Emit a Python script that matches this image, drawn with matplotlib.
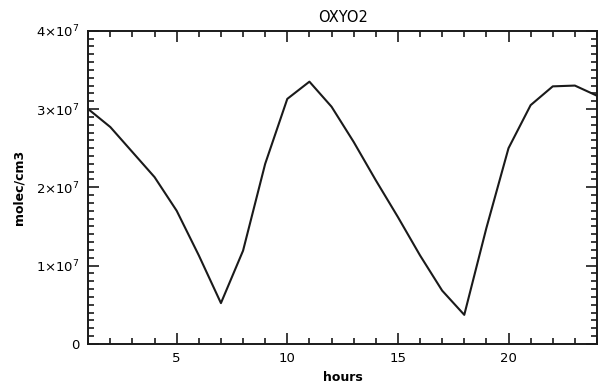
import matplotlib
matplotlib.use("Agg")
import matplotlib.pyplot as plt
from matplotlib.ticker import MultipleLocator

hours = list(range(1, 25))
oxyo2 = [3.00e7, 2.77e7, 2.45e7, 2.13e7, 1.70e7, 1.13e7, 0.52e7, 1.19e7,
         2.30e7, 3.13e7, 3.35e7, 3.03e7, 2.58e7, 2.09e7, 1.62e7, 1.13e7,
         0.68e7, 0.37e7, 1.48e7, 2.50e7, 3.05e7, 3.29e7, 3.30e7, 3.17e7]

y_ticks = [0, 1e7, 2e7, 3e7, 4e7]
y_tick_labels = ["0", "1×10$^7$", "2×10$^7$", "3×10$^7$", "4×10$^7$"]
x_ticks = [5, 10, 15, 20]

plt.rcParams["font.family"] = ["DejaVu Sans"]
plt.rcParams["mathtext.default"] = "regular"

fig = plt.figure(figsize=(6.0, 3.85), dpi=100)
ax = fig.add_axes([0.147, 0.107, 0.848, 0.813])

ax.plot(hours, oxyo2, color="#1a1a1a", linewidth=1.5)

ax.set_xlim(1, 24)
ax.set_ylim(0, 4e7)
ax.set_xticks(x_ticks)
ax.set_xticklabels([str(t) for t in x_ticks], fontsize=9.5)
ax.xaxis.set_minor_locator(MultipleLocator(1))
ax.set_yticks(y_ticks)
ax.set_yticklabels(y_tick_labels, fontsize=9.5)
ax.yaxis.set_minor_locator(MultipleLocator(1e6))

ax.tick_params(which="both", direction="in", top=True, right=True,
               color="#1a1a1a", width=1.2)
ax.tick_params(which="major", length=8, pad=6)
ax.tick_params(which="minor", length=4)

for s in ax.spines.values():
    s.set_linewidth(1.4)
    s.set_color("#1a1a1a")

ax.set_title("OXYO2", fontsize=10.5, pad=6)
ax.set_xlabel("hours", fontsize=9, fontweight="bold", labelpad=4)
ax.set_ylabel("molec/cm3", fontsize=9, fontweight="bold", labelpad=8)

fig.savefig("out.png", dpi=100)
